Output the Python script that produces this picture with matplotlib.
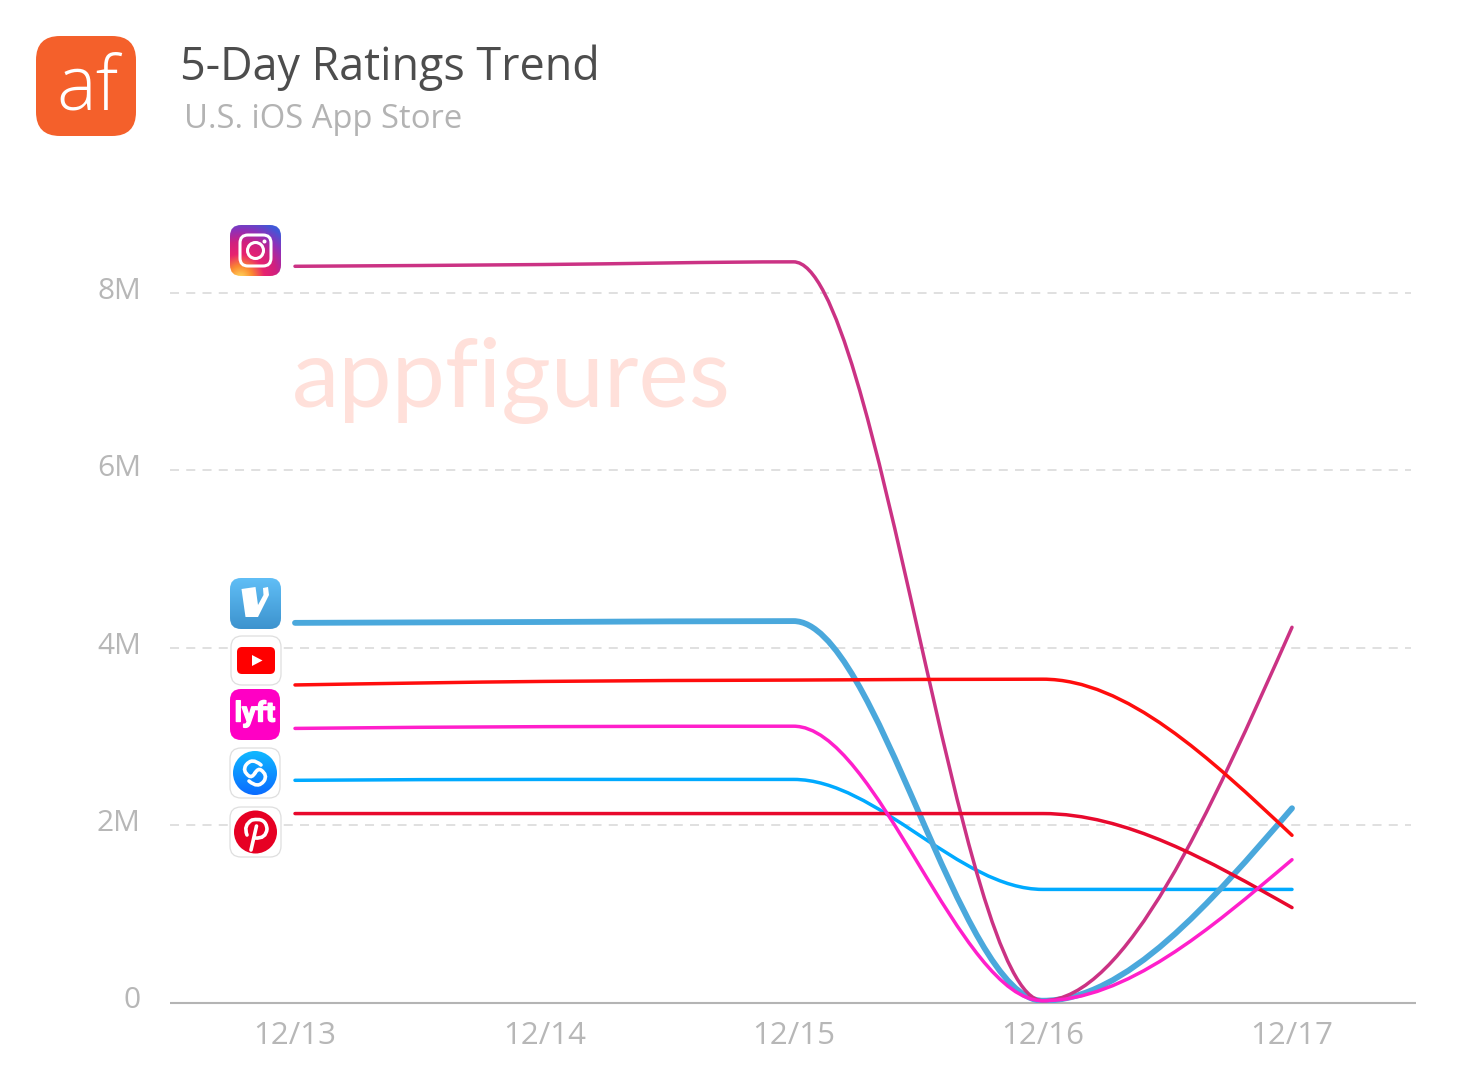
import numpy as np
import matplotlib
matplotlib.use('Agg')
import matplotlib.pyplot as plt
import matplotlib.patheffects as pe
from matplotlib.colors import LinearSegmentedColormap
from matplotlib.patches import FancyBboxPatch, Circle, Polygon
from matplotlib.path import Path
from matplotlib.patches import PathPatch
from matplotlib.transforms import ScaledTranslation

plt.rcParams['font.family'] = ['Open Sans', 'DejaVu Sans']

# Values in millions of ratings
days = ['12/13', '12/14', '12/15', '12/16', '12/17']
instagram = [8.30, 8.32, 8.35, 0.02, 4.23]
venmo = [4.28, 4.29, 4.30, 0.02, 2.19]
youtube = [3.58, 3.62, 3.635, 3.645, 1.885]
lyft = [3.09, 3.11, 3.115, 0.02, 1.61]
shazam = [2.505, 2.515, 2.515, 1.275, 1.275]
pinterest = [2.13, 2.13, 2.13, 2.13, 1.07]
y_ticks = [0, 2, 4, 6, 8]
y_labels = ['0', '2M', '4M', '6M', '8M']

W, H = 1468, 1086


def monotone_path(ys):
    # same idea as d3 curveMonotoneX, all steps one day wide
    ys = np.array(ys, dtype=float)
    d = np.diff(ys)
    t = np.zeros(len(ys))
    for i in range(1, len(ys) - 1):
        if d[i - 1] * d[i] > 0:
            t[i] = np.sign(d[i]) * min(abs(d[i - 1]), abs(d[i]),
                                       abs(d[i - 1] + d[i]) / 4) * 2
    t[0] = (3 * d[0] - t[1]) / 2
    t[-1] = (3 * d[-1] - t[-2]) / 2
    verts = [(0, ys[0])]
    codes = [Path.MOVETO]
    for i in range(len(d)):
        verts += [(i + 1 / 3, ys[i] + t[i] / 3),
                  (i + 2 / 3, ys[i + 1] - t[i + 1] / 3),
                  (i + 1, ys[i + 1])]
        codes += [Path.CURVE4] * 3
    return Path(verts, codes)


fig = plt.figure(figsize=(W / 100, H / 100), dpi=100)
ax = fig.add_axes([170 / W, 1 - 1002.5 / H, (1416 - 170) / W, (1002.5 - 204) / H])
ax.set_xlim(-0.5015, 4.4975)
ax.set_ylim(0, (1002.5 - 204) / 88.7)
for s in ['top', 'left', 'right']:
    ax.spines[s].set_visible(False)
ax.spines['bottom'].set_color('#b4b4b4')
ax.spines['bottom'].set_linewidth(1.5)
ax.spines['bottom'].set_capstyle('butt')

ax.set_xticks(range(len(days)))
ax.set_xticklabels(days)
ax.set_yticks(y_ticks)
ax.set_yticklabels(y_labels)
ax.tick_params(axis='both', length=0, labelcolor='#b7b7b7')
ax.tick_params(axis='x', pad=13, labelsize=22.5)
ax.tick_params(axis='y', pad=21, labelsize=21.5)
offset = ScaledTranslation(0, 5 / 100, fig.dpi_scale_trans)
for lab in ax.get_yticklabels():
    lab.set_transform(lab.get_transform() + offset)
ax.hlines(y_ticks[1:], -0.5015, 4.4775, color='#dddddd', linewidth=1.3,
          linestyles=[(0, (5, 4))], zorder=1)

series = [
    (shazam, '#00aaff', 2.5, 3),
    (venmo, '#4aa8dc', 4.2, 4),
    (instagram, '#cb3284', 2.5, 5),
    (pinterest, '#e8092d', 2.5, 6),
    (lyft, '#ff1fcb', 2.5, 7),
    (youtube, '#ff0d0d', 2.5, 8),
]
for vals, col, lw, z in series:
    ax.add_patch(PathPatch(monotone_path(vals), fill=False, edgecolor=col,
                           linewidth=lw, capstyle='round', joinstyle='round',
                           zorder=z))

# overlay in pixel coordinates for header and app icons
ov = fig.add_axes([0, 0, 1, 1], zorder=-1)
ov.axis('off')
ax.patch.set_alpha(0)
top = fig.add_axes([0, 0, 1, 1], zorder=5)
top.axis('off')
top.patch.set_alpha(0)
for a in (ov, top):
    a.set_xlim(0, W)
    a.set_ylim(H, 0)

ov.text(511.5, 381, 'appfigures', color='#ffe0da', fontsize=68.5, family='Lato',
        fontweight='normal', ha='center', va='center')


def box(x0, y0, x1, y1, r, **kw):
    p = FancyBboxPatch((x0 + r, y0 + r), x1 - x0 - 2 * r, y1 - y0 - 2 * r,
                       boxstyle='round,pad=%g,rounding_size=%g' % (r, r), **kw)
    top.add_patch(p)
    return p


def gradient_box(x0, y0, x1, y1, r, img, cmap):
    p = box(x0, y0, x1, y1, r, facecolor='none', edgecolor='none')
    im = top.imshow(img, extent=[x0, x1, y1, y0], cmap=cmap, vmin=0, vmax=1,
                    aspect='auto', interpolation='bilinear')
    im.set_clip_path(p)


def white_box(x0, y0, x1, y1):
    box(x0, y0, x1, y1, 11, facecolor='white', edgecolor='#dedede', linewidth=0.9)


# af logo
box(36, 36, 136, 136, 24, facecolor='#f4602b', edgecolor='none')
top.text(87, 110, 'af', color='white', fontsize=54, family='Open Sans', fontweight='light',
         ha='center', va='baseline')

top.text(180, 68, '5-Day Ratings Trend', color='#4d4d4d', fontsize=32.3, va='center')
top.text(184, 119, 'U.S. iOS App Store', color='#b3b3b3', fontsize=23.6, va='center')

# instagram
yy, xx = np.mgrid[0:1:64j, 0:1:64j]
dist = np.clip(np.hypot(xx - 0.2, yy - 1.05) / 1.2, 0, 1)
ig_map = LinearSegmentedColormap.from_list(
    'ig', ['#ffdc60', '#fb8a30', '#e8236f', '#d0207f', '#8f30b8', '#4058d8'])
gradient_box(230, 225, 281, 276, 11, dist, ig_map)
box(240, 235, 271, 266, 8, facecolor='none', edgecolor='white', linewidth=2.2)
top.add_patch(Circle((255.5, 250.5), 8, facecolor='none', edgecolor='white', linewidth=2.2))
top.add_patch(Circle((264.5, 241.5), 2, facecolor='white', edgecolor='none'))

# venmo
vm_map = LinearSegmentedColormap.from_list('vm', ['#60bef6', '#3d93ce'])
gradient_box(230, 578, 281, 629, 11, yy, vm_map)
top.add_patch(Polygon([(241.5, 589), (255.5, 587), (258, 605), (263.5, 595), (263, 588),
                       (268, 587), (269, 595), (258, 617), (245.5, 617)],
                      facecolor='white', edgecolor='none', zorder=3))

# youtube
white_box(231, 636, 281, 685)
box(237, 647, 275, 674, 5, facecolor='#ff0000', edgecolor='none')
top.add_patch(Polygon([(252, 655), (262.5, 660.5), (252, 666)], facecolor='white'))

# lyft
box(230, 689, 280, 740, 11, facecolor='#ff00c4', edgecolor='none')
top.text(255, 714, 'lyft', color='white', fontsize=20, fontweight='bold', family='Roboto',
         ha='center', va='center',
         path_effects=[pe.withStroke(linewidth=1, foreground='white')])

# shazam
white_box(230, 748, 280, 798)
sz_map = LinearSegmentedColormap.from_list('sz', ['#10b8ff', '#0b6cff'])
bg = top.imshow(yy, extent=[233, 277, 795, 751], cmap=sz_map, aspect='auto', zorder=1.5)
bg.set_clip_path(Circle((255, 773), 22, transform=top.transData))
s_codes = [Path.MOVETO] + [Path.CURVE3] * 6
top.add_patch(PathPatch(Path([(261, 765), (252, 757), (246, 765), (242, 771), (249, 776),
                              (252, 778), (255, 773)], s_codes),
                        fill=False, edgecolor='white', linewidth=2.6, capstyle='round', zorder=3))
top.add_patch(PathPatch(Path([(249, 781), (258, 789), (264, 781), (268, 775), (261, 770),
                              (258, 768), (255, 773)], s_codes),
                        fill=False, edgecolor='white', linewidth=2.6, capstyle='round', zorder=3))

# pinterest
white_box(230, 807, 281, 857)
top.add_patch(Circle((255.5, 832), 21.5, facecolor='#e60023', edgecolor='none'))
p_codes = [Path.MOVETO] + [Path.CURVE3] * 6
top.add_patch(PathPatch(Path([(247, 835), (243, 825), (252, 820), (266, 817), (267, 829),
                              (266, 839), (255, 838)], p_codes),
                        fill=False, edgecolor='white', linewidth=2.6, capstyle='round', zorder=3))
top.plot([256.5, 251], [826, 850], color='white', linewidth=2.6, solid_capstyle='round', zorder=3)

top.set_xlim(0, W)
top.set_ylim(H, 0)

fig.savefig('out.png', dpi=100)
